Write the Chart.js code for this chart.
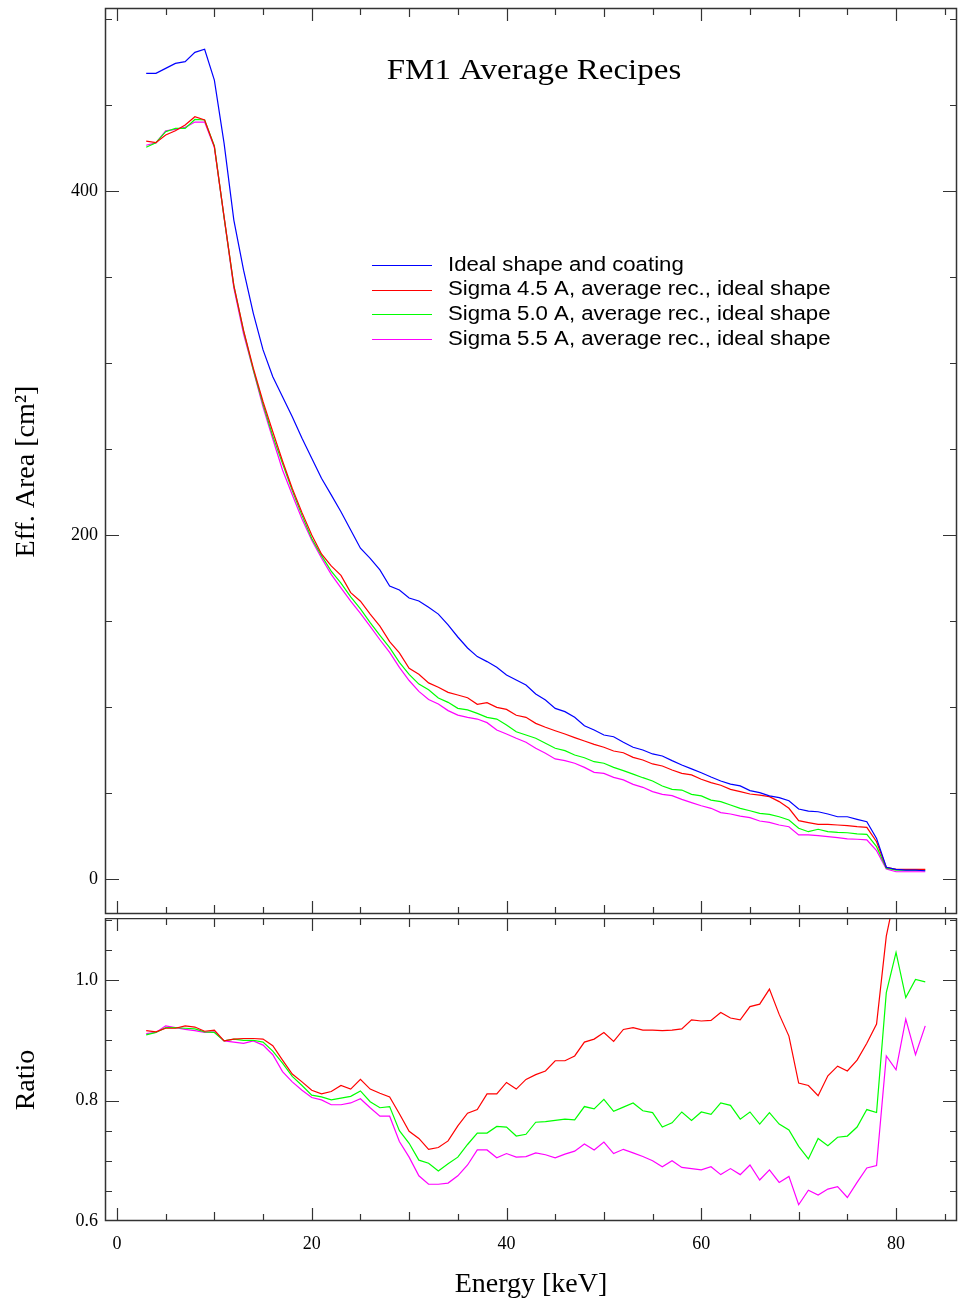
<!DOCTYPE html>
<html><head><meta charset="utf-8">
<script src="https://cdn.jsdelivr.net/npm/chart.js@4/dist/chart.umd.min.js"></script>
<style>
html,body{margin:0;padding:0;background:#fff;}
#wrap{position:relative;width:958px;height:1303px;overflow:hidden;}
#top{position:absolute;left:0;top:0;width:958px;height:918px;}
#bot{position:absolute;left:0;top:918px;width:958px;height:385px;}
</style></head><body>
<div id="wrap"><div id="top"><canvas id="c1"></canvas></div><div id="bot"><canvas id="c2"></canvas></div></div>
<script>
// ---------- data ----------
const energy = [3,4,5,6,7,8,9,10,11,12,13,14,15,16,17,18,19,20,21,22,23,24,25,26,27,28,29,30,31,32,33,34,35,36,37,38,39,40,41,42,43,44,45,46,47,48,49,50,51,52,53,54,55,56,57,58,59,60,61,62,63,64,65,66,67,68,69,70,71,72,73,74,75,76,77,78,79,80,81,82,83];

const seriesLabels = ["Ideal shape and coating","Sigma 4.5 A, average rec., ideal shape","Sigma 5.0 A, average rec., ideal shape","Sigma 5.5 A, average rec., ideal shape"];

const areaIdeal = [468.4,468.4,471.3,474.2,475.2,480.6,482.4,464.5,427.7,383.1,354,328.9,307.6,292,280.4,268.8,256.2,244.6,233,223.3,213.5,202.9,192.3,186.4,179.7,170.3,168,163.4,161.6,158,154,147.7,140.7,134.3,129.3,126.4,123.1,118.6,115.7,112.8,107.6,104.1,99.2,97.3,94,89.1,86.6,83.7,82.7,79.5,76.6,75,72.7,71.5,68.8,66.3,64,61.8,59.3,57,55.2,54.1,51.4,50.2,48.3,47.3,45.5,40.7,39.5,39.1,37.8,36.2,36.2,34.7,33.3,23.6,6.8,5.6,5.2,5.2,4.8];

const areaSig45 = [429,428.1,432.6,435,438.4,443.2,441.3,425.8,385,345,319,297,277.5,260,243,227,213,200,189,182,176.5,166.5,161.5,154,147,138,131.5,122.5,119,114,111.5,108.5,107,105.4,101.6,102.5,99.8,98.6,95.2,94,90.5,88.2,86.2,84.3,82.2,80.2,78.3,76.6,74.4,73.4,70.7,69.2,66.9,65.7,63.4,61.4,60.5,58,56,54.5,52.1,50.8,49.4,48.8,47.9,45,41.1,33.9,32.8,31.8,31.8,31.4,31,30.4,30,21.7,6.8,5.6,5.6,5.6,5.6];

const areaSig50 = [425.4,428.1,434.5,436.4,436.4,441.6,441.3,426.2,384.5,345,318.5,296,276,257.5,241.5,225.8,211.4,198,188,179,172,164,157,149,141.6,134.5,126,119,113.3,110,105.2,102.7,99.2,98.3,96.3,94,93,89.5,85.6,83.7,81.8,78.9,76,74.6,72.1,70.5,68.2,67.3,64.9,63,61,58.9,57,54.1,52.1,51.7,49.2,48.3,45.9,45,43,41.1,39.7,38.2,37.6,36.2,34.3,29.5,27.5,28.9,27.5,27.1,26.9,26.2,26,18.8,6.2,5.2,5.2,5.2,5.2];

const areaSig55 = [426.6,428,435,435.8,437,440.1,440.1,425.4,384.5,343.6,316.8,295.7,274.4,255.8,237.8,223.4,209.3,196.9,186.6,177.1,169.3,161.5,154.4,146.9,139.1,131.8,123,115.4,109.1,104.4,101.8,97.9,95.3,94,93,90.9,86.6,84.3,81.8,79.5,76,73.1,69.8,68.8,67.3,64.9,62,61.4,59.1,57.6,55,53.3,50.8,49.2,48.5,46.3,44.4,42.6,41.1,38.6,37.8,36.6,35.7,33.7,32.9,31.4,30.4,25.6,25.6,25.2,24.6,24,23.3,23.1,22.7,16.5,5.8,4.2,4.2,4.2,4.2];

const ratioSig45 = [0.916,0.914,0.920,0.920,0.924,0.922,0.915,0.917,0.899,0.902,0.903,0.903,0.902,0.891,0.867,0.844,0.831,0.817,0.811,0.815,0.825,0.819,0.835,0.819,0.812,0.806,0.778,0.749,0.737,0.719,0.722,0.733,0.758,0.779,0.785,0.811,0.811,0.830,0.819,0.835,0.843,0.849,0.866,0.866,0.874,0.897,0.902,0.913,0.898,0.918,0.921,0.917,0.917,0.916,0.917,0.919,0.934,0.932,0.933,0.946,0.937,0.934,0.956,0.960,0.985,0.943,0.907,0.829,0.825,0.808,0.841,0.857,0.849,0.867,0.895,0.927,1.073,1.15,1.11,1.14,1.13];

const ratioSig50 = [0.909,0.913,0.921,0.921,0.920,0.919,0.914,0.913,0.899,0.902,0.900,0.900,0.897,0.882,0.862,0.840,0.825,0.809,0.806,0.801,0.804,0.807,0.816,0.798,0.788,0.790,0.750,0.729,0.701,0.696,0.683,0.695,0.706,0.727,0.746,0.746,0.757,0.756,0.741,0.744,0.764,0.765,0.767,0.769,0.768,0.790,0.786,0.802,0.782,0.789,0.796,0.783,0.780,0.756,0.763,0.781,0.767,0.781,0.777,0.796,0.792,0.769,0.781,0.761,0.780,0.761,0.751,0.724,0.703,0.737,0.725,0.739,0.741,0.756,0.785,0.780,0.979,1.046,0.971,1.001,0.997];

const ratioSig55 = [0.911,0.913,0.924,0.921,0.918,0.916,0.913,0.914,0.899,0.897,0.895,0.899,0.892,0.876,0.848,0.831,0.817,0.805,0.801,0.793,0.793,0.796,0.803,0.788,0.774,0.774,0.732,0.706,0.675,0.661,0.661,0.663,0.675,0.693,0.718,0.718,0.705,0.712,0.706,0.707,0.713,0.710,0.705,0.711,0.716,0.728,0.718,0.731,0.712,0.719,0.713,0.707,0.700,0.690,0.700,0.689,0.687,0.685,0.690,0.677,0.687,0.677,0.693,0.668,0.685,0.664,0.674,0.627,0.651,0.643,0.653,0.657,0.639,0.664,0.688,0.692,0.874,0.851,0.935,0.876,0.924];

// tick labels and tick marks
const xTickLabels = [0,20,40,60,80];
const xTickMarks = [0,5,10,15,20,25,30,35,40,45,50,55,60,65,70,75,80,85];
const yTopTickLabels = [0,200,400];
const yTopTickMarks = [0,50,100,150,200,250,300,350,400,450,500];
const yBotTickLabels = [0.6,0.8,1.0];
const yBotTickMarks = [0.6,0.65,0.7,0.75,0.8,0.85,0.9,0.95,1.0,1.05,1.1];

const colors = ['#0000ff','#ff0000','#00ff00','#ff00ff'];
const SERIF = "'Liberation Serif','Times New Roman',serif";
const SANS = "'Liberation Sans',Arial,sans-serif";

function pts(ys){ return energy.map((e,i)=>({x:e,y:ys[i]})); }

// frame + inward ticks plugin
const framePlugin = {
  id:'frame',
  afterDatasetsDraw(chart, args, o){
    const {ctx, chartArea:a, scales} = chart;
    const x = scales.x, y = scales.y;
    ctx.save();
    ctx.strokeStyle = '#333';
    ctx.lineWidth = 1.5;
    ctx.strokeRect(a.left+0.5, a.top+0.5, a.right-a.left-1, a.bottom-a.top-1);
    ctx.lineWidth = 1.2;
    ctx.beginPath();
    for(const v of o.xMarks){
      const px = Math.round(x.getPixelForValue(v))+0.5;
      const L = (v % 20 === 0) ? 13 : (v % 10 === 0 ? 9 : 7);
      if(px < a.left || px > a.right) continue;
      ctx.moveTo(px, a.top); ctx.lineTo(px, a.top+L);
      ctx.moveTo(px, a.bottom); ctx.lineTo(px, a.bottom-L);
    }
    for(const v of o.yMarks){
      const py = Math.round(y.getPixelForValue(v))+0.5;
      if(py < a.top || py > a.bottom) continue;
      const L = o.yLabels.some(t=>Math.abs(t-v)<1e-9) ? 14 : 7;
      ctx.moveTo(a.left, py); ctx.lineTo(a.left+L, py);
      ctx.moveTo(a.right, py); ctx.lineTo(a.right-L, py);
    }
    ctx.stroke();
    if(o.title){
      ctx.fillStyle = '#000';
      ctx.font = "30px " + SERIF;
      ctx.textAlign = 'center';
      ctx.textBaseline = 'middle';
      ctx.save();
      ctx.translate(534, 71);
      ctx.scale(1.1, 1);
      ctx.fillText(o.title, 0, 0);
      ctx.restore();
    }
    if(o.legend){
      const ds = chart.data.datasets;
      ctx.font = "20px " + SANS;
      ctx.textAlign = 'left';
      ctx.textBaseline = 'middle';
      ds.forEach((d,i)=>{
        const yy = 265 + i*24.7;
        ctx.strokeStyle = d.borderColor;
        ctx.lineWidth = 1.2;
        ctx.beginPath();
        ctx.moveTo(372, Math.round(yy)+0.5); ctx.lineTo(432, Math.round(yy)+0.5);
        ctx.stroke();
        ctx.fillStyle = '#000';
        ctx.save();
        ctx.translate(448, yy);
        ctx.scale(1.11, 1);
        ctx.fillText(d.label, 0, 0);
        ctx.restore();
      });
    }
    ctx.restore();
  }
};

const xMin = -1.23, xMax = 86.26;

function lineDs(label, data, color){
  return {label, data: pts(data), borderColor: color, backgroundColor: color, borderWidth: 1.2, pointRadius: 0, tension: 0, fill: false};
}

function noPad(s){ s.paddingTop = 0; s.paddingBottom = 0; s.paddingLeft = 0; s.paddingRight = 0; }

const tickFont = {family: SERIF, size: 18};
const titleFont = {family: SERIF, size: 28};

new Chart(document.getElementById('c1'), {
  type: 'line',
  data: { datasets: [
    lineDs(seriesLabels[0], areaIdeal, colors[0]),
    lineDs(seriesLabels[1], areaSig45, colors[1]),
    lineDs(seriesLabels[2], areaSig50, colors[2]),
    lineDs(seriesLabels[3], areaSig55, colors[3])
  ]},
  options: {
    responsive: true, maintainAspectRatio: false, animation: false, devicePixelRatio: 1,
    layout: {padding: {left: 0, right: 1, top: 8, bottom: 4}},
    plugins: {
      legend: {display: false}, tooltip: {enabled: false},
      frame: {xMarks: xTickMarks, yMarks: yTopTickMarks, yLabels: yTopTickLabels, title: 'FM1 Average Recipes', legend: true}
    },
    scales: {
      x: {type: 'linear', min: xMin, max: xMax, display: false},
      y: {type: 'linear', min: -20.35, max: 506.4,
        grid: {display: false, drawTicks: false}, border: {display: false},
        afterBuildTicks: s => { s.ticks = yTopTickLabels.map(v => ({value: v})); },
        afterFit: s => { s.width = 105; noPad(s); },
        ticks: {font: tickFont, color: '#000', padding: 7},
        title: {display: true, text: 'Eff. Area [cm²]   ', font: titleFont, color: '#000', padding: {top: 10, bottom: 0}}
      }
    }
  },
  plugins: [framePlugin]
});

new Chart(document.getElementById('c2'), {
  type: 'line',
  data: { datasets: [
    lineDs(seriesLabels[1], ratioSig45, colors[1]),
    lineDs(seriesLabels[2], ratioSig50, colors[2]),
    lineDs(seriesLabels[3], ratioSig55, colors[3])
  ]},
  options: {
    responsive: true, maintainAspectRatio: false, animation: false, devicePixelRatio: 1,
    layout: {padding: {left: 0, right: 1, top: 0, bottom: 2}},
    plugins: {
      legend: {display: false}, tooltip: {enabled: false},
      frame: {xMarks: xTickMarks, yMarks: yBotTickMarks, yLabels: yBotTickLabels}
    },
    scales: {
      x: {type: 'linear', min: xMin, max: xMax, position: 'bottom',
        grid: {display: false, drawTicks: false}, border: {display: false},
        afterBuildTicks: s => { s.ticks = xTickLabels.map(v => ({value: v})); },
        afterFit: s => { s.height = 80; noPad(s); },
        ticks: {font: tickFont, color: '#000', padding: 12, maxRotation: 0},
        title: {display: true, text: 'Energy [keV]', font: titleFont, color: '#000', padding: {top: 2, bottom: 0}}
      },
      y: {type: 'linear', min: 0.6, max: 1.103,
        grid: {display: false, drawTicks: false}, border: {display: false},
        afterBuildTicks: s => { s.ticks = yBotTickLabels.map(v => ({value: v})); },
        afterFit: s => { s.width = 105; noPad(s); },
        ticks: {font: tickFont, color: '#000', padding: 7, callback: v => v.toFixed(1)},
        title: {display: true, text: 'Ratio   ', font: titleFont, color: '#000', padding: {top: 10, bottom: 0}}
      }
    }
  },
  plugins: [framePlugin]
});
</script>
</body></html>
